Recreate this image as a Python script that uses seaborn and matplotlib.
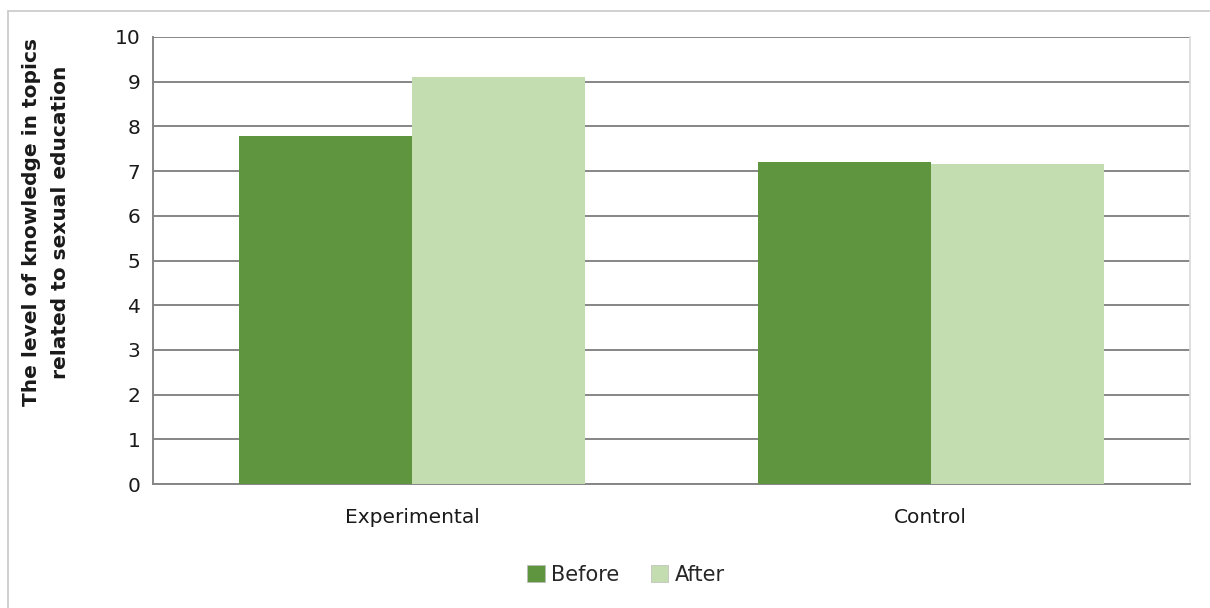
import matplotlib
matplotlib.use("Agg")
import matplotlib.pyplot as plt
import matplotlib.patches as mpatches
import seaborn as sns
import pandas as pd

groups = ["Experimental", "Control"]
phases = ["Before", "After"]
before_scores = [7.78, 7.21]
after_scores = [9.10, 7.15]

colors = {"Before": "#5F953E", "After": "#C3DDB1"}

df = pd.DataFrame({
    "group": groups * 2,
    "phase": ["Before"] * len(groups) + ["After"] * len(groups),
    "score": before_scores + after_scores,
})

sns.set_theme(style="white")
plt.rcParams["font.family"] = ["DejaVu Sans"]

W, H = 1210, 608
fig = plt.figure(figsize=(W / 100, H / 100), dpi=100)
ax = fig.add_axes([153 / W, 1 - 484 / H, (1190 - 153) / W, (484 - 37) / H])

sns.barplot(data=df, x="group", y="score", hue="phase", order=groups,
            hue_order=phases, palette=colors, width=2 / 3, gap=0,
            saturation=1, ax=ax, legend=False, zorder=3,
            edgecolor="none")

ax.set_ylim(0, 10)
ax.set_yticks(range(0, 11))
ax.set_xlim(-0.5, 1.5)
ax.yaxis.grid(True, color="#868686", linewidth=1.4, zorder=0)
ax.set_axisbelow(True)
ax.tick_params(axis="both", length=0, colors="#1a1a1a", labelsize=14.5)
ax.tick_params(axis="y", pad=9)
ax.tick_params(axis="x", pad=17)
ax.set_xlabel("")
ax.set_ylabel("")

fig.text(46 / W, 1 - 222 / H,
         "The level of knowledge in topics\nrelated to sexual education",
         rotation=90, ha="center", va="center", fontsize=14.5,
         fontweight="semibold", color="#1a1a1a", linespacing=1.65,
         multialignment="center")

for side in ["left", "bottom"]:
    ax.spines[side].set_color("#868686")
    ax.spines[side].set_linewidth(1.4)
ax.spines["right"].set_color("#D9D9D9")
ax.spines["right"].set_linewidth(1.2)
ax.spines["top"].set_visible(False)

handles = [mpatches.Patch(facecolor=colors[p], edgecolor="#bbbbbb", linewidth=0.5, label=p)
           for p in phases]
fig.legend(handles=handles, loc="center", bbox_to_anchor=(626 / W, 1 - 575 / H),
           ncol=2, frameon=False, fontsize=15,
           handlelength=0.85, handleheight=0.85, handletextpad=0.3, columnspacing=1.5)

# outer chart border
fig.patches.append(mpatches.Rectangle((8 / W, -0.01), 1.1, 1 - 11 / H + 0.01,
                                      transform=fig.transFigure, fill=False,
                                      edgecolor="#C8C8C8", linewidth=1.2))

fig.savefig("out.png", dpi=100)
